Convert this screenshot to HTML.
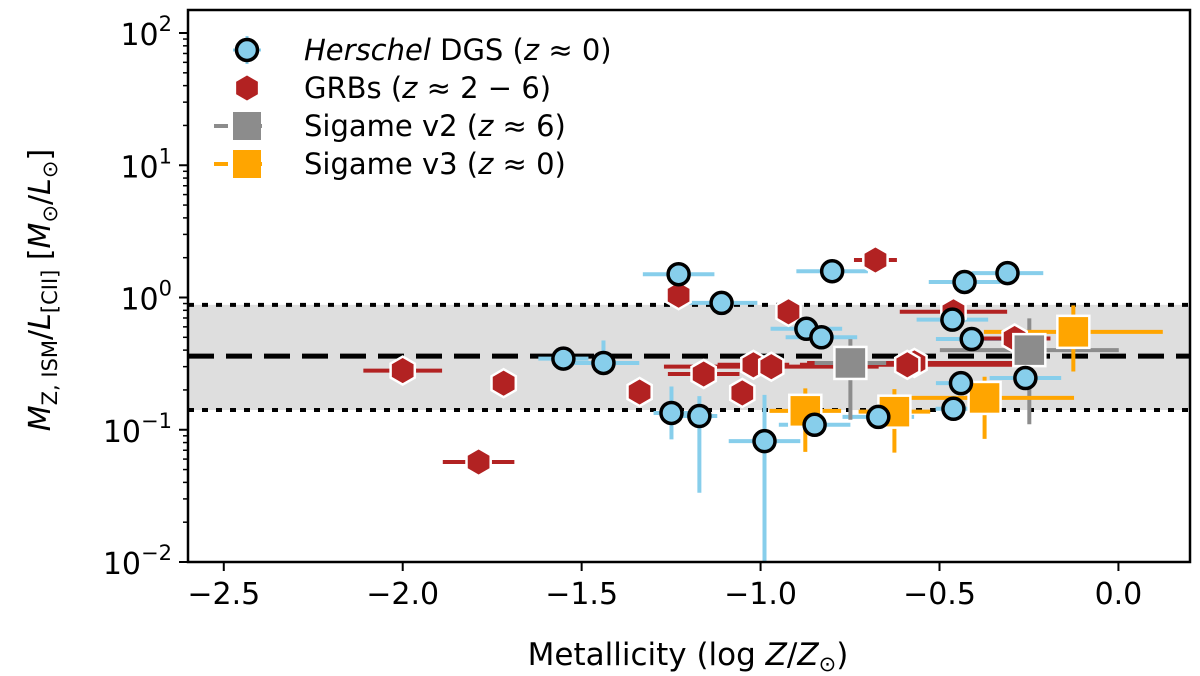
<!DOCTYPE html>
<html><head><meta charset="utf-8"><style>
body{margin:0;background:#fff}
svg{display:block;font-family:"DejaVu Sans","Liberation Sans",sans-serif}
</style></head><body>
<svg id="chart" width="1200" height="676" viewBox="0 0 1200 676" xmlns="http://www.w3.org/2000/svg">
<g id="band"></g>
<g id="errs"></g>
<g id="marks"></g>
<g id="axes"></g>
<g id="legend"></g>
<text x="688" y="665" font-size="31" text-anchor="middle">Metallicity (log <tspan font-style="italic">Z</tspan>/<tspan font-style="italic">Z</tspan><tspan font-size="21" dy="6">⊙</tspan><tspan dy="-6">)</tspan></text>
<text transform="translate(50,290) rotate(-90)" font-size="30" text-anchor="middle"><tspan font-style="italic">M</tspan><tspan font-size="21" dy="7">Z, ISM</tspan><tspan dy="-7">/</tspan><tspan font-style="italic">L</tspan><tspan font-size="21" dy="7">[CII]</tspan><tspan dy="-7">  [</tspan><tspan font-style="italic">M</tspan><tspan font-size="21" dy="7">⊙</tspan><tspan dy="-7">/</tspan><tspan font-style="italic">L</tspan><tspan font-size="21" dy="7">⊙</tspan><tspan dy="-7">]</tspan></text>
</svg>
<script>
// ---- data ----
const xTicks=[-2.5,-2.0,-1.5,-1.0,-0.5,0.0];
const xTickLabels=["−2.5","−2.0","−1.5","−1.0","−0.5","0.0"];
const yTicksExp=[-2,-1,0,1,2];
const medianLine=0.36, bandLo=0.141, bandHi=0.88;
// Herschel DGS
const dgsX=[-1.551,-1.439,-1.229,-1.109,-1.249,-1.171,-0.989,-0.80,-0.31,-0.43,-0.872,-0.83,-0.464,-0.41,-0.44,-0.26,-0.461,-0.849,-0.671];
const dgsY=[0.345,0.32,1.5,0.91,0.134,0.127,0.082,1.58,1.53,1.31,0.58,0.50,0.68,0.485,0.225,0.246,0.144,0.109,0.125];
const dgsXerr=[0.07,0.1,0.1,0.1,0.05,0.05,0.1,0.1,0.1,0.1,0.1,0.1,0.1,0.1,0.07,0.1,0.05,0.1,0.1];
const dgsYerrLo=[0.03,0.05,0.05,0.05,0.2,0.58,2,0.05,0.05,0.05,0.05,0.05,0.05,0.05,0.05,0.05,0.05,0.05,0.05];
const dgsYerrHi=[0.03,0.17,0.05,0.05,0.2,0.15,0.35,0.05,0.05,0.05,0.05,0.05,0.05,0.05,0.05,0.05,0.05,0.05,0.05];
// GRBs
const grbX=[-2.0,-1.718,-1.788,-1.229,-1.338,-1.159,-1.051,-1.02,-0.97,-0.922,-0.679,-0.461,-0.29,-0.57,-0.59];
const grbY=[0.28,0.225,0.057,1.04,0.193,0.264,0.19,0.31,0.30,0.78,1.92,0.78,0.49,0.32,0.31];
const grbXerr=[0.11,0.02,0.1,0.02,0.02,0.1,0.02,0.1,0.3,0.02,0.06,0.15,0.1,0.3,0.3];
// Sigame v2
const s2X=[-0.749,-0.249];
const s2Y=[0.32,0.40];
const s2Xerr=[0.1,0.25];
const s2YerrLo=[0.43,0.56];
const s2YerrHi=[0.18,0.24];
// Sigame v3
const s3X=[-0.875,-0.626,-0.374,-0.126];
const s3Y=[0.139,0.137,0.174,0.55];
const s3Xerr=[0.1,0.1,0.25,0.25];
const s3YerrLo=[0.31,0.31,0.31,0.3];
const s3YerrHi=[0.17,0.17,0.16,0.2];

// ---- scales ----
const L=188,R=1190,T=10,B=562;
const xMin=-2.6,xMax=0.2;
const sx=v=>L+(v-xMin)/(xMax-xMin)*(R-L);
const sy=v=>33+(2-Math.log10(v))*132.25;
const NS="http://www.w3.org/2000/svg";
function el(tag,attrs,parent){const e=document.createElementNS(NS,tag);for(const k in attrs)e.setAttribute(k,attrs[k]);parent.appendChild(e);return e;}
const band=document.getElementById('band'),errs=document.getElementById('errs'),marks=document.getElementById('marks'),axes=document.getElementById('axes'),legend=document.getElementById('legend');

let r=el('rect',{x:L,y:sy(bandHi),width:R-L,height:sy(bandLo)-sy(bandHi),fill:'#dedede'},band);


[bandHi,bandLo].forEach(v=>{const l=el('line',{x1:L,x2:R,y1:sy(v),y2:sy(v),stroke:'#000','stroke-width':4,'stroke-dasharray':'6 8'},band);

});
let ml=el('line',{x1:L,x2:R,y1:sy(medianLine),y2:sy(medianLine),stroke:'#000','stroke-width':5,'stroke-dasharray':'26 12'},band);



function errbar(x,y,xe,ylo,yhi,color){
  const g=el('g',{stroke:color,'stroke-width':4},errs);
  
  
  el('line',{x1:sx(x-xe),x2:sx(x+xe),y1:sy(y),y2:sy(y)},g);
  el('line',{x1:sx(x),x2:sx(x),y1:Math.min(B,sy(y)+ylo*132.25),y2:sy(y)-yhi*132.25},g);
}
dgsX.forEach((x,i)=>errbar(x,dgsY[i],dgsXerr[i],dgsYerrLo[i],dgsYerrHi[i],'#87ceeb'));
grbX.forEach((x,i)=>errbar(x,grbY[i],grbXerr[i],0.08,0.01,'#b22222'));
s2X.forEach((x,i)=>errbar(x,s2Y[i],s2Xerr[i],s2YerrLo[i],s2YerrHi[i],'#8c8c8c'));
s3X.forEach((x,i)=>errbar(x,s3Y[i],s3Xerr[i],s3YerrLo[i],s3YerrHi[i],'#ffa500'));

function hex(cx,cy,rr,parent){let p=[];for(let k=0;k<6;k++){const a=Math.PI/3*k-Math.PI/2;p.push((cx+rr*Math.cos(a)).toFixed(1)+','+(cy+rr*Math.sin(a)).toFixed(1));}
  return el('polygon',{points:p.join(' '),fill:'#b22222',stroke:'#fff','stroke-width':2.5},parent);}
grbX.forEach((x,i)=>{const h=hex(sx(x),sy(grbY[i]),14,marks);

});
s2X.forEach((x,i)=>{const q=el('rect',{x:sx(x)-16,y:sy(s2Y[i])-16,width:32,height:32,fill:'#8c8c8c',stroke:'#fff','stroke-width':2.5},marks);

});
s3X.forEach((x,i)=>{const q=el('rect',{x:sx(x)-16,y:sy(s3Y[i])-16,width:32,height:32,fill:'#ffa500',stroke:'#fff','stroke-width':2.5},marks);

});
dgsX.forEach((x,i)=>{const c=el('circle',{cx:sx(x),cy:sy(dgsY[i]),r:10.5,fill:'#87ceeb',stroke:'#000','stroke-width':3.5},marks);

});

// axes
let fr=el('rect',{x:L,y:T,width:R-L,height:B-T,fill:'none',stroke:'#000','stroke-width':2.5},axes);


xTicks.forEach((v,i)=>{el('line',{x1:sx(v),x2:sx(v),y1:B,y2:B+9,stroke:'#000','stroke-width':2},axes);
  const t=el('text',{x:sx(v),y:B+42,'font-size':30,'text-anchor':'middle'},axes);t.textContent=xTickLabels[i];
  
  });
yTicksExp.forEach(e=>{const y=sy(Math.pow(10,e));el('line',{x1:L-9,x2:L,y1:y,y2:y,stroke:'#000','stroke-width':2},axes);
  const t=el('text',{x:L-16,y:y+12,'font-size':30,'text-anchor':'end'},axes);
  
  
  t.innerHTML='10<tspan font-size="21" dy="-14">'+(e<0?'−'+(-e):e)+'</tspan>';
  if(e<2)for(let m=2;m<10;m++){const ym=sy(m*Math.pow(10,e));el('line',{x1:L-5,x2:L,y1:ym,y2:ym,stroke:'#000','stroke-width':1.5},axes);}
});

// legend
const items=[['herschel'],['grb','GRBs (','≈ 2 − 6)'],['v2','Sigame v2 (','≈ 6)'],['v3','Sigame v3 (','≈ 0)']];
items.forEach((it,i)=>{const y=50+i*38;const g=el('g',{},legend);
  
  
  const cx=247;
  if(it[0]==='herschel'){el('line',{x1:cx-14,x2:cx+14,y1:y,y2:y,stroke:'#87ceeb','stroke-width':3},g);el('line',{x1:cx,x2:cx,y1:y-14,y2:y+14,stroke:'#87ceeb','stroke-width':3},g);el('circle',{cx,cy:y,r:10.5,fill:'#87ceeb',stroke:'#000','stroke-width':3.5},g);}
  else if(it[0]==='grb'){hex(cx,y,14,g);}
  else{const c=it[0]==='v2'?'#8c8c8c':'#ffa500';el('line',{x1:cx-33,x2:cx+33,y1:y,y2:y,stroke:c,'stroke-width':4,'stroke-dasharray':'14 20'},g);el('rect',{x:cx-14,y:y-14,width:28,height:28,fill:c},g);}
  const t=el('text',{x:304,y:y+10,'font-size':29},g);
  if(it[0]==='herschel')t.innerHTML='<tspan font-style="italic">Herschel</tspan> DGS (<tspan font-style="italic">z</tspan> ≈ 0)';
  else t.innerHTML=it[1]+'<tspan font-style="italic">z</tspan> '+it[2];
});
</script>
</body></html>
